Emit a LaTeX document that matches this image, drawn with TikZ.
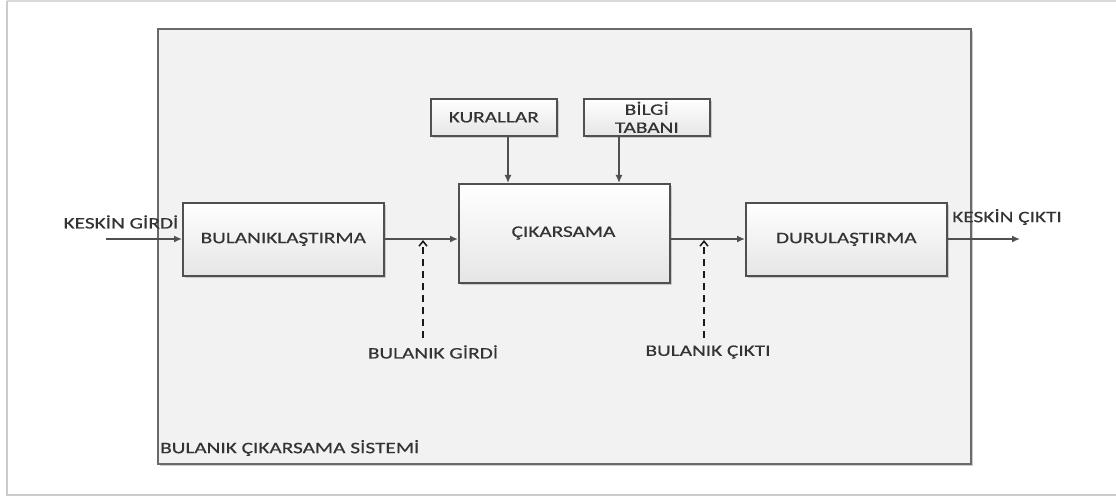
\documentclass[tikz,border=0pt]{standalone}
\usepackage{fontspec}
\setmainfont{Carlito}[FakeStretch=1.33,FakeBold=0.5]
\usetikzlibrary{shadows,arrows.meta}
\definecolor{edge}{HTML}{505050}
\definecolor{txt}{HTML}{333333}
\tikzset{
  blk/.style={draw=edge, line width=1.6pt, top color=white, bottom color=black!10,
    drop shadow={shadow xshift=1.8pt, shadow yshift=-1.8pt, opacity=0.35},
    anchor=north west, inner sep=0pt, font=\fontsize{16}{17}\selectfont, text=txt, align=center},
  lbl/.style={font=\fontsize{16}{17}\selectfont, text=txt, inner sep=0pt},
  arr/.style={draw=edge, line width=1.5pt, -{Latex[length=8pt,width=7pt]}},
  darr/.style={draw=black!90, line width=1.5pt, dash pattern=on 7pt off 5pt, -{Straight Barb[length=5pt,width=8pt]}}
}
\begin{document}
\begin{tikzpicture}[x=1pt,y=-1pt]
\useasboundingbox (0,0) rectangle (1116,497);
% page frame
\draw[black!15, line width=1.5pt] (7,0.8) -- (1120,0.8);
\draw[black!20, line width=2.2pt] (7,0.8) -- (7,495) -- (1120,495);
% system frame
\node[draw=edge!85, line width=1.8pt, fill=black!5,
  drop shadow={shadow xshift=2.5pt, shadow yshift=-2.5pt, opacity=0.4},
  minimum width=813pt, minimum height=435pt, anchor=north west, inner sep=0pt] (sys) at (157,28) {};
\node[lbl, anchor=west] (syslbl) at (160,448) {BULANIK ÇIKARSAMA SİSTEMİ};
% blocks
\node[blk, minimum width=201pt, minimum height=73pt] (fuz) at (182,202) {BULANIKLAŞTIRMA};
\node[blk, minimum width=211pt, minimum height=99pt] (inf) at (458,183) {};
\node[lbl] (inftxt) at (563.5,233) {ÇIKARSAMA};
\node[blk, minimum width=201pt, minimum height=73pt] (def) at (745,202) {DURULAŞTIRMA};
\node[blk, minimum width=126pt, minimum height=37pt] (kur) at (430,98) {KURALLAR};
\node[blk, minimum width=126pt, minimum height=37pt, font=\fontsize{16}{18}\selectfont] (bil) at (583,98) {BİLGİ\\TABANI};
% inputs / outputs
\coordinate (inS) at (106,239);
\coordinate (outE) at (1020,239);
\node[lbl] (kin) at (121,222) {KESKİN GİRDİ};
\node[lbl] (kout) at (1007,217) {KESKİN ÇIKTI};
\draw[arr] (inS) -- (inS -| fuz.west);
\draw[arr] (fuz.east |- 0,239) -- (inf.west |- 0,239);
\draw[arr] (inf.east |- 0,239) -- (def.west |- 0,239);
\draw[arr] (def.east |- 0,239) -- (outE);
\draw[arr] (kur.south -| 508,0) -- (508,183);
\draw[arr] (bil.south -| 619,0) -- (619,183);
% fuzzy labels and dashed arrows
\node[lbl] (bg) at (433,352) {BULANIK GİRDİ};
\node[lbl] (bc) at (708,352) {BULANIK ÇIKTI};
\coordinate (bgtop) at (423,240);
\coordinate (bctop) at (704,240);
\draw[darr] (423,338) -- (bgtop);
\draw[darr] (704,338) -- (bctop);
\end{tikzpicture}
\end{document}
